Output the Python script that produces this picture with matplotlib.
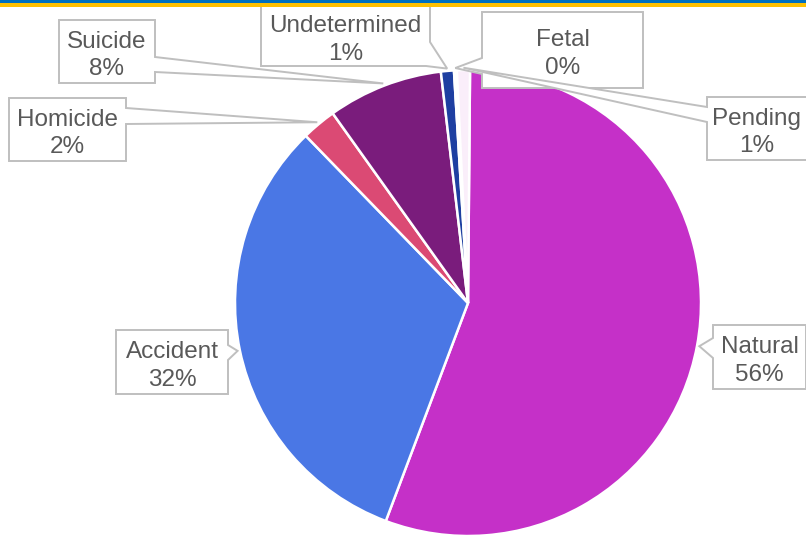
import matplotlib
matplotlib.use("Agg")
import matplotlib.pyplot as plt
from matplotlib.patches import Polygon, Rectangle
import numpy as np

# Data (manner of death share, percent)
categories = ["Natural", "Accident", "Homicide", "Suicide", "Undetermined", "Fetal", "Pending"]
values = [55.6, 32.0, 2.4, 8.0, 0.9, 0.2, 0.9]
colors = ["#C530C8", "#4A77E5", "#DB4A74", "#7A1C7C", "#1E3FA1", "#FFFFFF", "#FAEEFA"]

W, H = 806, 540
CX, CY, R = 468, 303, 233  # pie centre / radius in pixels (top-left origin)

# callout boxes, pixel coords from top-left: (x0, y0, x1, y1), tail side, attach points
callouts = {
    "Suicide":      ((59, 20, 155, 83), "right", (57, 72)),
    "Homicide":     ((9, 98, 126, 161), "right", (108, 124)),
    "Undetermined": ((261, 6, 430, 66), "corner", (42, 426)),
    "Fetal":        ((482, 12, 643, 88), "left", (58, 74)),
    "Pending":      ((707, 97, 815, 160), "left", (107, 122)),
    "Accident":     ((116, 330, 228, 394), "right", (345, 360)),
    "Natural":      ((713, 325, 806, 389), "left", (338, 358)),
}

fy = lambda y: H - y

fig = plt.figure(figsize=(W / 100, H / 100), dpi=100)
ax = fig.add_axes([0, 0, 1, 1])

total = sum(values)
wedges, _ = ax.pie(values, colors=colors, startangle=89.5, counterclock=False,
                   center=(CX, fy(CY)), radius=R,
                   wedgeprops=dict(edgecolor="white", linewidth=1.8))


def callout_poly(box, side, attach, tip):
    x0, y0, x1, y1 = box
    tl, tr, br, bl = (x0, y0), (x1, y0), (x1, y1), (x0, y1)
    if side == "right":
        pts = [tl, tr, (x1, attach[0]), tip, (x1, attach[1]), br, bl]
    elif side == "left":
        pts = [tl, tr, br, bl, (x0, attach[1]), tip, (x0, attach[0])]
    else:  # bottom-right corner
        pts = [tl, tr, (x1, attach[0]), tip, (attach[1], y1), bl]
    return [(x, fy(y)) for x, y in pts]


for i, (name, w) in enumerate(zip(categories, wedges)):
    box, side, attach = callouts[name]
    mid = np.deg2rad((w.theta1 + w.theta2) / 2)
    tip = (CX + R * 1.01 * np.cos(mid), CY - R * 1.01 * np.sin(mid))
    poly = Polygon(callout_poly(box, side, attach, tip), closed=True,
                   facecolor="white", edgecolor="#BFBFBF", linewidth=1.4,
                   zorder=5 + i)
    ax.add_patch(poly)
    pct = round(values[i] / total * 100)
    x0, y0, x1, y1 = box
    x1 = min(x1, W)
    ax.text((x0 + x1) / 2, fy((y0 + y1) / 2 + 4), f"{name}\n{pct}%",
            ha="center", va="center", fontsize=17.5, color="#595959",
            family="Liberation Sans", linespacing=1.3, zorder=5 + i)

# coloured strip across the top
ax.add_patch(Rectangle((0, fy(3)), W, 3, facecolor="#0070C0", edgecolor="none", zorder=20))
ax.add_patch(Rectangle((0, fy(6.5)), W, 3.5, facecolor="#FFC000", edgecolor="none", zorder=20))

ax.set_xlim(0, W)
ax.set_ylim(0, H)
ax.set_aspect("equal")
ax.axis("off")

fig.savefig("out.png", dpi=100)
